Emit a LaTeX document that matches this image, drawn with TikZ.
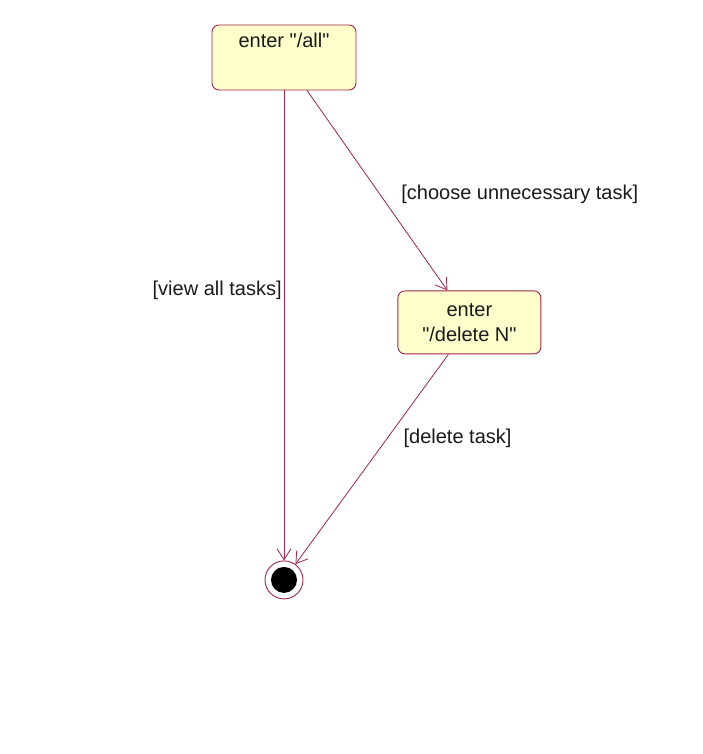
\documentclass[tikz,border=0pt]{standalone}
\usepackage{fontspec}
\setmainfont{Liberation Sans}[Ligatures=TeXOff]
\usepackage{xcolor}
\usetikzlibrary{arrows.meta,positioning}
\definecolor{umlLine}{HTML}{A3224F}
\definecolor{umlFill}{HTML}{FFFFCC}
\definecolor{umlInk}{HTML}{1A1A1A}
\newcommand{\umlfont}{\fontsize{20}{25}\selectfont}
\tikzset{
  % State box (yellow, rounded)
  stbox/.style={rectangle,rounded corners=7pt,
    minimum width=144pt,minimum height=65pt,
    align=center,draw=umlLine,fill=umlFill,line width=0.9pt,
    font=\umlfont,text=umlInk},
  % Final state (ring with black dot)
  finalst/.style={circle,minimum size=38pt,inner sep=0pt,
    draw=umlLine,fill=white,line width=0.9pt,
    path picture={\fill[black] (path picture bounding box.center) circle (13pt);}},
  % Transitions
  tr/.style={-{Straight Barb[length=11pt,width=14pt]},line width=0.8pt,color=umlLine},
  lbl/.style={font=\umlfont,text=umlInk,inner sep=1pt},
}
\begin{document}
\begin{tikzpicture}[x=1pt,y=-1pt]
  \useasboundingbox[fill=white] (0,0) rectangle (703,754);

  % States
  \node[stbox,text height=15pt,text depth=34pt,inner ysep=8pt] (all) at (284,57.5)
    {enter "/all"};
  \node[stbox,minimum width=143pt,minimum height=63pt,below right=200pt and 41pt of all] (del)
    {enter\\"/delete N"};
  \node[finalst,below=470pt of all] (end) {};

  % Transitions
  \draw[tr] (all.south) -- node[lbl,pos=0.426,left=1pt] {[view all tasks]} (end);
  \draw[tr] ([xshift=23pt]all.south) --
    node[lbl,pos=0.52,right=20pt] {[choose unnecessary task]} ([xshift=-22pt]del.north);
  \draw[tr] ([xshift=-21pt]del.south) --
    node[lbl,pos=0.4,right=15pt] {[delete task]} (end);
\end{tikzpicture}
\end{document}
